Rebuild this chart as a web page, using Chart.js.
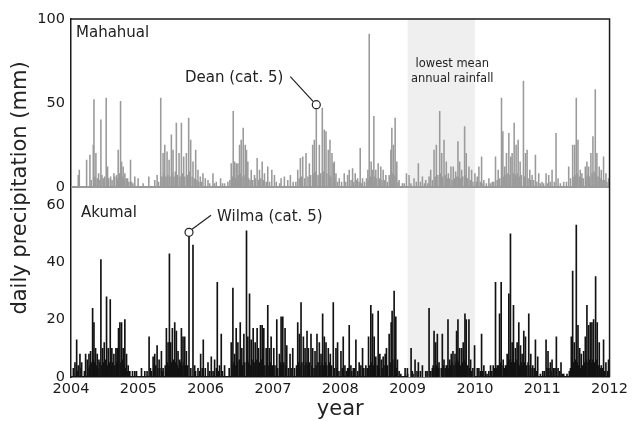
<!DOCTYPE html>
<html>
<head>
<meta charset="utf-8">
<script src="https://cdn.jsdelivr.net/npm/chart.js@4.4.1/dist/chart.umd.min.js"></script>
<style>
  html, body { margin: 0; padding: 0; background: #fff; }
</style>
</head>
<body>
<canvas id="rainChart" width="632" height="421"></canvas>
<script>
// daily precipitation (mm): [decimal year, mm]
const mahahual = [
  [2004.108,7],[2004.123,10],[2004.232,16],[2004.281,19],[2004.331,25],[2004.341,52],[2004.370,20],[2004.410,8],
  [2004.444,40],[2004.479,5],[2004.523,53],[2004.543,12],[2004.588,6],[2004.637,8],[2004.677,7],[2004.701,22],
  [2004.736,51],[2004.751,15],[2004.775,12],[2004.800,8],[2004.840,5],[2004.884,16],[2004.948,6],[2004.997,5],
  [2005.071,2],[2005.156,6],[2005.244,4],[2005.279,7],[2005.333,53],[2005.368,20],[2005.393,25],[2005.427,21],
  [2005.457,16],[2005.491,31],[2005.516,22],[2005.565,38],[2005.605,20],[2005.640,38],[2005.674,18],[2005.714,20],
  [2005.748,41],[2005.778,28],[2005.812,15],[2005.852,22],[2005.886,10],[2005.921,6],[2005.960,8],[2005.995,5],
  [2006.035,4],[2006.109,8],[2006.158,3],[2006.222,5],[2006.281,2],[2006.380,14],[2006.410,45],[2006.430,15],
  [2006.454,14],[2006.479,14],[2006.504,25],[2006.528,28],[2006.558,35],[2006.588,25],[2006.607,22],[2006.627,15],
  [2006.677,10],[2006.726,7],[2006.765,17],[2006.800,10],[2006.840,15],[2006.874,8],[2006.923,12],[2006.983,10],
  [2007.022,7],[2007.121,5],[2007.170,6],[2007.220,4],[2007.259,7],[2007.368,10],[2007.407,17],[2007.442,18],
  [2007.491,20],[2007.541,14],[2007.590,25],[2007.615,28],[2007.644,49],[2007.689,25],[2007.733,47],[2007.763,34],
  [2007.788,33],[2007.822,22],[2007.847,28],[2007.877,20],[2007.896,14],[2007.911,15],[2007.936,8],[2007.985,5],
  [2008.059,8],[2008.109,7],[2008.133,10],[2008.183,11],[2008.222,8],[2008.257,5],[2008.296,23],[2008.331,5],
  [2008.390,5],[2008.410,10],[2008.430,91],[2008.459,15],[2008.479,10],[2008.499,42],[2008.528,10],[2008.563,14],
  [2008.602,12],[2008.637,10],[2008.677,7],[2008.726,7],[2008.751,22],[2008.766,35],[2008.790,25],[2008.815,41],
  [2008.840,15],[2008.874,4],[2008.923,2],[2008.983,8],[2009.022,7],[2009.096,5],[2009.160,14],[2009.220,6],
  [2009.269,4],[2009.319,6],[2009.343,10],[2009.393,22],[2009.427,25],[2009.477,45],[2009.507,20],[2009.541,28],
  [2009.575,15],[2009.605,8],[2009.644,12],[2009.679,12],[2009.714,9],[2009.748,27],[2009.773,15],[2009.803,10],
  [2009.847,36],[2009.871,20],[2009.911,12],[2009.951,10],[2010.000,8],[2010.035,6],[2010.059,12],[2010.099,18],
  [2010.133,4],[2010.207,5],[2010.257,3],[2010.306,18],[2010.346,10],[2010.395,53],[2010.415,33],[2010.444,12],
  [2010.469,20],[2010.504,32],[2010.533,18],[2010.553,20],[2010.583,38],[2010.612,25],[2010.642,28],[2010.672,15],
  [2010.721,63],[2010.751,20],[2010.775,22],[2010.815,10],[2010.849,7],[2010.899,19],[2010.948,8],[2010.997,3],
  [2011.057,8],[2011.096,7],[2011.146,10],[2011.205,32],[2011.235,5],[2011.319,3],[2011.393,12],[2011.452,25],
  [2011.481,25],[2011.506,53],[2011.531,28],[2011.565,10],[2011.590,8],[2011.640,12],[2011.664,15],[2011.689,12],
  [2011.723,20],[2011.753,30],[2011.788,58],[2011.812,20],[2011.847,12],[2011.877,10],[2011.911,18],[2011.946,8],
  [2011.985,5]
];

// light rain days between the peaks (Mahahual)
const mahahualLight = [
  [2004.30,4],[2004.355,6],[2004.39,5],[2004.43,4],[2004.46,7],[2004.50,6],[2004.56,5],[2004.61,4],[2004.65,6],
  [2004.69,5],[2004.72,8],[2004.76,6],[2004.79,4],[2004.82,5],[2004.86,3],[2004.90,3],[2004.92,2],
  [2005.30,3],[2005.35,6],[2005.38,8],[2005.41,6],[2005.44,7],[2005.47,6],[2005.50,8],[2005.53,6],[2005.55,9],
  [2005.58,7],[2005.62,6],[2005.66,8],[2005.69,6],[2005.73,7],[2005.76,9],[2005.80,6],[2005.83,5],[2005.87,4],
  [2005.90,3],[2005.94,3],
  [2006.06,2],[2006.13,2],[2006.25,2],[2006.33,3],[2006.36,4],[2006.395,6],[2006.44,5],[2006.47,6],[2006.49,7],
  [2006.52,8],[2006.54,6],[2006.57,7],[2006.60,6],[2006.64,5],[2006.66,4],[2006.70,4],[2006.74,5],[2006.78,4],
  [2006.82,5],[2006.86,4],[2006.90,3],[2006.95,3],
  [2007.05,3],[2007.10,2],[2007.30,3],[2007.34,3],[2007.39,5],[2007.42,6],[2007.47,5],[2007.52,6],[2007.56,7],
  [2007.60,8],[2007.63,9],[2007.67,7],[2007.71,8],[2007.75,9],[2007.80,8],[2007.835,7],[2007.86,6],[2007.92,5],
  [2007.96,3],
  [2008.02,3],[2008.08,3],[2008.16,4],[2008.20,3],[2008.24,4],[2008.28,3],[2008.32,2],[2008.36,3],[2008.42,4],
  [2008.445,6],[2008.47,5],[2008.51,6],[2008.54,5],[2008.58,5],[2008.62,4],[2008.66,4],[2008.70,3],[2008.74,6],
  [2008.78,8],[2008.80,7],[2008.83,6],[2008.86,3],[2008.95,2],
  [2009.05,2],[2009.13,3],[2009.19,3],[2009.25,2],[2009.30,2],[2009.37,4],[2009.41,6],[2009.45,7],[2009.49,8],
  [2009.52,6],[2009.56,7],[2009.59,5],[2009.62,5],[2009.66,4],[2009.70,5],[2009.73,6],[2009.76,6],[2009.79,5],
  [2009.82,6],[2009.86,7],[2009.89,5],[2009.93,4],[2009.97,3],
  [2010.02,3],[2010.08,3],[2010.12,2],[2010.17,2],[2010.23,2],[2010.28,3],[2010.33,4],[2010.37,5],[2010.43,6],
  [2010.46,7],[2010.49,8],[2010.52,7],[2010.57,8],[2010.60,7],[2010.63,8],[2010.66,6],[2010.69,7],[2010.74,6],
  [2010.79,5],[2010.83,4],[2010.87,4],[2010.92,3],[2010.97,2],
  [2011.02,2],[2011.08,2],[2011.12,3],[2011.18,3],[2011.27,2],[2011.36,3],[2011.42,5],[2011.47,6],[2011.49,7],
  [2011.52,8],[2011.55,6],[2011.58,5],[2011.61,5],[2011.65,6],[2011.68,7],[2011.70,6],[2011.74,8],[2011.77,9],
  [2011.80,7],[2011.83,6],[2011.86,5],[2011.89,4],[2011.93,4],[2011.96,3]
];

const akumal = [
  [2004.035,3],[2004.059,5],[2004.084,13],[2004.108,4],[2004.133,8],[2004.158,5],[2004.217,8],[2004.242,6],
  [2004.267,8],[2004.291,9],[2004.321,24],[2004.341,19],[2004.365,10],[2004.390,8],[2004.415,6],[2004.444,41],
  [2004.469,10],[2004.494,12],[2004.528,28],[2004.553,10],[2004.583,27],[2004.607,10],[2004.637,8],[2004.667,10],
  [2004.686,10],[2004.706,17],[2004.726,19],[2004.751,19],[2004.775,10],[2004.800,20],[2004.825,8],[2004.849,4],
  [2004.874,2],[2004.914,2],[2004.948,2],[2004.973,2],[2005.047,3],[2005.096,2],[2005.160,14],[2005.195,2],
  [2005.220,7],[2005.244,8],[2005.279,11],[2005.309,6],[2005.343,9],[2005.368,3],[2005.417,17],[2005.442,12],
  [2005.462,43],[2005.481,12],[2005.506,17],[2005.541,19],[2005.565,16],[2005.590,9],[2005.615,6],[2005.640,17],
  [2005.664,14],[2005.689,14],[2005.714,9],[2005.753,50.5],[2005.812,46],[2005.837,4],[2005.886,3],[2005.926,8],
  [2005.965,13],[2005.995,3],[2006.035,5],[2006.084,7],[2006.133,6],[2006.173,33],[2006.207,4],[2006.232,15],
  [2006.281,4],[2006.380,12],[2006.405,31],[2006.430,8],[2006.454,17],[2006.479,12],[2006.514,19],[2006.538,10],
  [2006.568,15],[2006.607,51],[2006.627,14],[2006.652,29],[2006.677,13],[2006.706,17],[2006.736,12],[2006.765,17],
  [2006.785,10],[2006.815,18],[2006.840,18],[2006.864,17],[2006.899,10],[2006.923,25],[2006.948,10],[2006.973,14],
  [2007.012,10],[2007.057,20],[2007.096,8],[2007.121,21],[2007.146,21],[2007.180,17],[2007.205,11],[2007.254,8],
  [2007.294,10],[2007.368,19],[2007.393,15],[2007.417,26],[2007.452,14],[2007.477,10],[2007.506,16],[2007.526,10],
  [2007.565,15],[2007.590,10],[2007.625,9],[2007.654,15],[2007.689,12],[2007.714,8],[2007.738,22],[2007.763,14],
  [2007.788,12],[2007.822,10],[2007.852,8],[2007.896,26],[2007.936,10],[2007.960,12],[2008.010,9],[2008.044,14],
  [2008.069,4],[2008.109,3],[2008.133,18],[2008.158,4],[2008.193,3],[2008.232,13],[2008.281,5],[2008.306,4],
  [2008.331,10],[2008.380,4],[2008.420,14],[2008.454,25],[2008.479,22],[2008.504,14],[2008.528,7],[2008.563,23],
  [2008.588,8],[2008.612,6],[2008.637,7],[2008.667,8],[2008.686,10],[2008.726,15],[2008.756,19],[2008.770,23],
  [2008.800,30],[2008.825,21],[2008.849,6],[2008.874,2],[2008.899,1],[2008.963,3],[2008.997,3],[2009.052,10],
  [2009.081,1],[2009.111,6],[2009.160,5],[2009.220,4],[2009.269,2],[2009.319,24],[2009.343,2],[2009.368,3],
  [2009.393,16],[2009.417,12],[2009.442,15],[2009.467,5],[2009.516,15],[2009.541,6],[2009.575,4],[2009.600,20],
  [2009.625,6],[2009.649,8],[2009.674,9],[2009.704,8],[2009.728,16],[2009.748,20],[2009.773,10],[2009.803,10],
  [2009.827,12],[2009.852,22],[2009.871,20],[2009.911,20],[2009.936,6],[2009.970,3],[2009.995,11],[2010.035,3],
  [2010.059,3],[2010.099,15],[2010.133,4],[2010.158,2],[2010.207,2],[2010.232,4],[2010.272,4],[2010.306,33],
  [2010.331,4],[2010.366,22],[2010.390,33],[2010.420,6],[2010.454,4],[2010.479,8],[2010.504,29],[2010.528,50],
  [2010.553,12],[2010.573,25],[2010.602,10],[2010.627,12],[2010.652,19],[2010.677,11],[2010.701,8],[2010.726,16],
  [2010.751,14],[2010.800,22],[2010.830,8],[2010.859,4],[2010.899,13],[2010.933,7],[2010.973,1],[2011.007,2],
  [2011.057,13],[2011.086,9],[2011.121,5],[2011.146,6],[2011.170,3],[2011.210,14],[2011.235,3],[2011.279,5],
  [2011.319,1],[2011.368,1],[2011.403,2],[2011.432,14],[2011.452,37],[2011.477,12],[2011.506,53],[2011.531,18],
  [2011.556,10],[2011.580,8],[2011.615,9],[2011.640,14],[2011.664,25],[2011.689,18],[2011.714,19],[2011.738,19],
  [2011.763,20],[2011.793,35],[2011.817,19],[2011.847,12],[2011.877,4],[2011.911,13],[2011.946,5],[2011.985,6]
];

// light rain days between the peaks (Akumal)
const akumalLight = [
  [2004.10,2],[2004.15,3],[2004.20,2],[2004.25,3],[2004.28,4],[2004.31,5],[2004.33,6],[2004.355,5],[2004.38,4],
  [2004.40,3],[2004.43,5],[2004.46,4],[2004.48,5],[2004.51,6],[2004.54,4],[2004.57,5],[2004.60,4],[2004.62,5],
  [2004.65,4],[2004.68,5],[2004.70,6],[2004.74,5],[2004.76,6],[2004.79,4],[2004.81,3],[2004.84,2],
  [2005.13,2],[2005.18,3],[2005.23,3],[2005.26,4],[2005.29,3],[2005.32,3],[2005.36,2],[2005.40,4],[2005.43,5],
  [2005.45,4],[2005.49,5],[2005.52,6],[2005.55,5],[2005.58,4],[2005.60,3],[2005.63,5],[2005.65,4],[2005.68,5],
  [2005.70,4],[2005.73,4],[2005.78,3],[2005.85,2],[2005.91,2],[2005.95,3],
  [2006.06,2],[2006.11,2],[2006.16,3],[2006.19,2],[2006.25,2],[2006.35,3],[2006.39,4],[2006.42,5],[2006.44,4],
  [2006.47,5],[2006.50,6],[2006.53,5],[2006.55,4],[2006.58,5],[2006.62,6],[2006.64,5],[2006.67,4],[2006.69,6],
  [2006.72,5],[2006.75,6],[2006.78,4],[2006.80,5],[2006.83,6],[2006.85,5],[2006.88,4],[2006.91,5],[2006.94,4],
  [2006.96,5],[2006.99,4],
  [2007.03,4],[2007.07,3],[2007.11,5],[2007.13,4],[2007.16,5],[2007.19,4],[2007.23,3],[2007.27,3],[2007.32,3],
  [2007.35,4],[2007.38,5],[2007.40,4],[2007.43,5],[2007.46,4],[2007.49,5],[2007.52,4],[2007.54,5],[2007.58,4],
  [2007.61,3],[2007.64,4],[2007.67,5],[2007.70,4],[2007.73,5],[2007.75,4],[2007.78,5],[2007.80,4],[2007.84,5],
  [2007.87,4],[2007.91,3],[2007.95,3],[2007.98,2],
  [2008.03,3],[2008.09,2],[2008.12,3],[2008.17,2],[2008.21,3],[2008.26,2],[2008.35,3],[2008.40,3],[2008.44,4],
  [2008.47,5],[2008.49,4],[2008.52,5],[2008.55,4],[2008.58,3],[2008.62,3],[2008.65,4],[2008.70,4],[2008.74,5],
  [2008.78,6],[2008.81,5],[2008.84,3],
  [2009.00,1],[2009.07,2],[2009.14,2],[2009.19,2],[2009.29,2],[2009.34,2],[2009.38,4],[2009.41,3],[2009.43,4],
  [2009.46,3],[2009.50,3],[2009.53,4],[2009.56,3],[2009.59,4],[2009.61,3],[2009.64,4],[2009.66,5],[2009.69,4],
  [2009.72,5],[2009.74,6],[2009.76,5],[2009.79,4],[2009.82,5],[2009.84,6],[2009.86,5],[2009.89,4],[2009.92,3],
  [2009.95,2],
  [2010.08,2],[2010.11,2],[2010.18,1],[2010.25,2],[2010.29,3],[2010.32,3],[2010.35,4],[2010.38,5],[2010.40,4],
  [2010.44,3],[2010.47,4],[2010.49,5],[2010.52,6],[2010.54,5],[2010.56,6],[2010.59,5],[2010.61,6],[2010.64,5],
  [2010.66,4],[2010.69,5],[2010.71,4],[2010.74,5],[2010.77,4],[2010.79,5],[2010.82,4],[2010.85,3],[2010.88,3],
  [2010.92,2],
  [2011.03,2],[2011.07,3],[2011.10,3],[2011.13,2],[2011.19,3],[2011.26,2],[2011.30,1],[2011.42,3],[2011.44,4],
  [2011.46,5],[2011.49,6],[2011.52,5],[2011.54,4],[2011.57,3],[2011.60,4],[2011.63,5],[2011.65,6],[2011.68,5],
  [2011.70,6],[2011.73,5],[2011.75,6],[2011.78,5],[2011.80,6],[2011.83,4],[2011.86,3],[2011.89,3],[2011.93,2],
  [2011.97,2]
];

const yearTicks = [2004, 2005, 2006, 2007, 2008, 2009, 2010, 2011, 2012];
const topTicks = [0, 50, 100];
const bottomTicks = [0, 20, 40, 60];
const lowRainfallYears = [2009, 2010];

const storms = [
  { name: 'Dean (cat. 5)', year: 2007.644, mm: 49, axis: 'yTop', side: 'left' },
  { name: 'Wilma (cat. 5)', year: 2005.753, mm: 50.5, axis: 'yBot', side: 'right' }
];

const FONT = '"DejaVu Sans", Verdana, sans-serif';
const INK = '#1a1a1a';
const GREY = '#9a9a9a';

const toPoints = (...lists) => [].concat(...lists)
  .sort((a, b) => a[0] - b[0])
  .map(p => ({ x: p[0], y: p[1] }));

// shaded band behind the data
const bandPlugin = {
  id: 'band',
  beforeDatasetsDraw(chart) {
    const { ctx, chartArea, scales } = chart;
    const x0 = scales.x.getPixelForValue(lowRainfallYears[0]);
    const x1 = scales.x.getPixelForValue(lowRainfallYears[1]);
    ctx.save();
    ctx.fillStyle = '#efefef';
    ctx.fillRect(x0, chartArea.top, x1 - x0, chartArea.bottom - chartArea.top);
    ctx.fillStyle = '#222';
    ctx.font = '11.5px ' + FONT;
    ctx.textAlign = 'center';
    ctx.textBaseline = 'middle';
    const cx = x0 + (x1 - x0) / 2 + 11;
    ctx.fillText('lowest mean', cx, chartArea.top + 45);
    ctx.fillText('annual rainfall', cx, chartArea.top + 60);
    ctx.restore();
  }
};

// frame, panel labels, storm markers, axis titles
const decorPlugin = {
  id: 'decor',
  afterDatasetsDraw(chart) {
    const { ctx, chartArea, scales } = chart;
    const { left, right, top, bottom } = chartArea;
    ctx.save();

    // grey zero line of the upper panel
    const z = scales.yTop.getPixelForValue(0);
    ctx.strokeStyle = GREY;
    ctx.lineWidth = 2;
    ctx.beginPath();
    ctx.moveTo(left, z);
    ctx.lineTo(right, z);
    ctx.stroke();

    // top and right frame
    ctx.strokeStyle = INK;
    ctx.lineWidth = 1.5;
    ctx.beginPath();
    ctx.moveTo(left, top);
    ctx.lineTo(right, top);
    ctx.lineTo(right, bottom);
    ctx.stroke();

    ctx.fillStyle = '#222';
    ctx.font = '15px ' + FONT;
    ctx.textBaseline = 'middle';
    ctx.textAlign = 'left';
    ctx.fillText('Mahahual', left + 5, scales.yTop.top + 14);
    ctx.fillText('Akumal', left + 10, scales.yBot.top + 26);

    storms.forEach(s => {
      const cx = scales.x.getPixelForValue(s.year);
      const cy = scales[s.axis].getPixelForValue(s.mm);
      ctx.strokeStyle = '#222';
      ctx.lineWidth = 1.2;
      ctx.fillStyle = '#fff';
      ctx.beginPath();
      ctx.arc(cx, cy, 4, 0, Math.PI * 2);
      ctx.fill();
      ctx.stroke();
      ctx.beginPath();
      ctx.fillStyle = '#222';
      if (s.side === 'left') {
        ctx.moveTo(cx - 3, cy - 3);
        ctx.lineTo(cx - 26, cy - 28);
        ctx.stroke();
        ctx.textAlign = 'right';
        ctx.fillText(s.name, cx - 33, cy - 27);
      } else {
        ctx.moveTo(cx + 3, cy - 3);
        ctx.lineTo(cx + 22, cy - 17);
        ctx.stroke();
        ctx.textAlign = 'left';
        ctx.fillText(s.name, cx + 28, cy - 15);
      }
    });

    // axis titles
    ctx.fillStyle = '#222';
    ctx.font = '21px ' + FONT;
    ctx.textAlign = 'center';
    ctx.textBaseline = 'middle';
    ctx.fillText('year', (left + right) / 2, 410);
    ctx.translate(21, 188);
    ctx.rotate(-Math.PI / 2);
    ctx.fillText('daily precipitation (mm)', 0, 0);
    ctx.restore();
  }
};

const tickFont = { family: FONT, size: 14.5 };

function yScale(weight, max, ticks) {
  return {
    type: 'linear',
    position: 'left',
    stack: 'panels',
    stackWeight: weight,
    min: 0,
    max: max,
    grid: { display: false, drawTicks: false },
    border: { display: true, color: INK, width: 1.5 },
    afterBuildTicks: s => { s.ticks = ticks.map(v => ({ value: v })); },
    afterFit: s => { s.width = 71; },
    ticks: { color: '#1a1a1a', font: tickFont, padding: 6 }
  };
}

new Chart(document.getElementById('rainChart'), {
  type: 'bar',
  data: {
    datasets: [
      {
        label: 'Akumal',
        data: toPoints(akumal, akumalLight),
        yAxisID: 'yBot',
        backgroundColor: '#121212',
        barThickness: 1.0,
        grouped: false
      },
      {
        label: 'Mahahual',
        data: toPoints(mahahual, mahahualLight),
        yAxisID: 'yTop',
        backgroundColor: GREY,
        barThickness: 0.9,
        grouped: false
      }
    ]
  },
  options: {
    responsive: false,
    animation: false,
    layout: { padding: { top: 19, right: 21, left: 0, bottom: 0 } },
    plugins: { legend: { display: false }, tooltip: { enabled: false } },
    scales: {
      x: {
        type: 'linear',
        min: 2004,
        max: 2012,
        offset: false,
        grid: { display: false, drawTicks: false },
        border: { display: true, color: INK, width: 1.5 },
        afterBuildTicks: s => { s.ticks = yearTicks.map(v => ({ value: v })); },
        afterFit: s => { s.height = 44; },
        ticks: { color: '#1a1a1a', font: tickFont, padding: 4, autoSkip: false, maxRotation: 0, callback: v => String(v) }
      },
      yBot: yScale(190, 66.3, bottomTicks),
      yTop: yScale(168, 100, topTicks)
    }
  },
  plugins: [bandPlugin, decorPlugin]
});
</script>
</body>
</html>
